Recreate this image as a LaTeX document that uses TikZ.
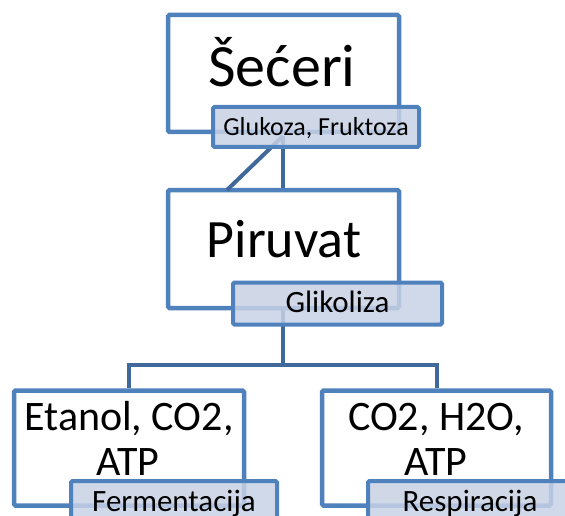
\documentclass[tikz,border=0pt]{standalone}
\usepackage{fontspec}
\setmainfont{Carlito}
\definecolor{boxblue}{HTML}{4F81BD}
\definecolor{linkblue}{HTML}{41689A}
\definecolor{labfill}{HTML}{C8D2E5}
\tikzset{
  bigbox/.style={draw=boxblue, line width=4.5pt, fill=white, rounded corners=1.5pt, inner sep=0pt},
  labbox/.style={draw=boxblue, line width=4pt, fill=labfill, fill opacity=0.85, rounded corners=1.5pt, inner sep=0pt},
  link/.style={draw=linkblue, line width=4pt},
  bigtxt/.style={inner sep=0pt, anchor=base, font=\fontsize{54}{60}\selectfont},
  midtxt/.style={inner sep=0pt, anchor=base, font=\fontsize{42}{45}\selectfont},
  labtxt/.style={inner sep=0pt, anchor=base, font=\fontsize{31}{34}\selectfont},
}
\begin{document}
\begin{tikzpicture}[x=1pt,y=-1pt]
\useasboundingbox (0,0) rectangle (565,516);
% main boxes
\node[bigbox, minimum width=231pt, minimum height=117pt] (b1) at (283.5,73.5) {};
\node[bigbox, minimum width=231pt, minimum height=118pt] (b2) at (283.5,249) {};
\node[bigbox, minimum width=230pt, minimum height=115pt] (b3) at (129,448) {};
\node[bigbox, minimum width=229pt, minimum height=115pt] (b4) at (436.5,448) {};
% connectors
\coordinate (d1) at (283,136);
\coordinate (d2) at (227,190);
\coordinate (g1) at (283,310);
\coordinate (j) at (283,365);
\draw[link] (d1) -- (d2);
\draw[link] (d1) -- (d1 |- b2.north);
\draw[link] (g1) -- (j);
\draw[link] (b3.north) |- (j) -| (b4.north);
% texts
\node[bigtxt, font=\fontsize{60}{66}\selectfont] (t1) at (282,87) {Šećeri};
\node[bigtxt] (t2) at (284,257) {Piruvat};
\node[midtxt] (t3a) at (129,430) {Etanol, CO2,};
\node[midtxt] (t3b) at (128,475) {ATP};
\node[midtxt] (t4a) at (436,430) {CO2, H2O,};
\node[midtxt] (t4b) at (436,475) {ATP};
% label boxes
\node[labbox, minimum width=206pt, minimum height=40pt] (l1) at (316,127) {};
\node[labbox, minimum width=209pt, minimum height=42pt] (l2) at (337.5,303.5) {};
\node[labbox, minimum width=206pt, minimum height=42pt] (l3) at (174,502) {};
\node[labbox, minimum width=206pt, minimum height=42pt] (l4) at (471,502) {};
\node[labtxt, font=\fontsize{26}{30}\selectfont] (lt1) at (316,136) {Glukoza, Fruktoza};
\node[labtxt] (lt2) at (337.5,312) {Glikoliza};
\node[labtxt] (lt3) at (174,511) {Fermentacija};
\node[labtxt] (lt4) at (470,511) {Respiracija};
\end{tikzpicture}
\end{document}
